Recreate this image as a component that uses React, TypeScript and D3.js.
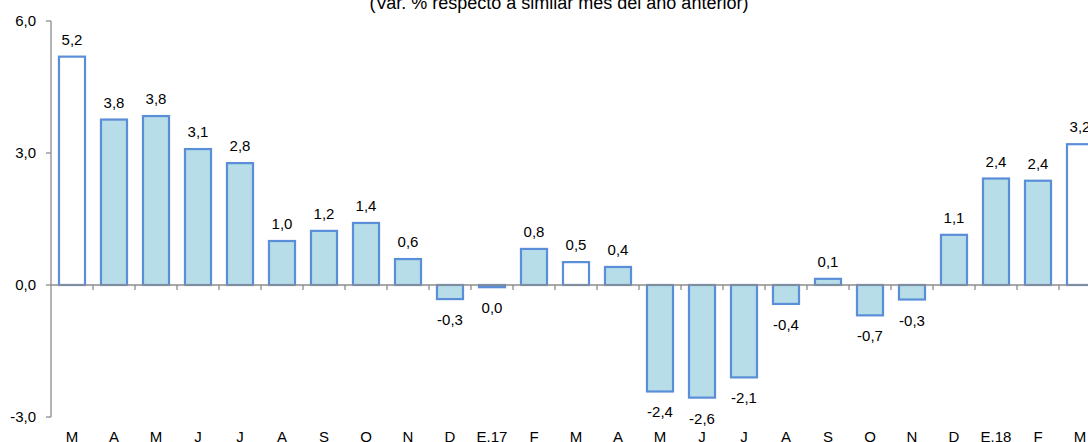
import React from "react";
import * as d3 from "d3";

const categories = ["M","A","M","J","J","A","S","O","N","D","E.17","F","M","A","M","J","J","A","S","O","N","D","E.18","F","M"];
const values = [5.19,3.76,3.84,3.09,2.77,1.0,1.23,1.41,0.59,-0.32,-0.05,0.82,0.52,0.41,-2.42,-2.56,-2.1,-0.43,0.14,-0.69,-0.33,1.14,2.42,2.37,3.2];
const labels = ["5,2","3,8","3,8","3,1","2,8","1,0","1,2","1,4","0,6","-0,3","0,0","0,8","0,5","0,4","-2,4","-2,6","-2,1","-0,4","0,1","-0,7","-0,3","1,1","2,4","2,4","3,2"];
const hollow = [0, 12, 24];
const yTicks = [-3, 0, 3, 6];
const yTickLabels = ["-3,0", "0,0", "3,0", "6,0"];
const title = "(Var. % respecto a similar mes del año anterior)";

export default function App() {
  const W = 1088, H = 442;
  const left = 51;
  const x = d3.scaleBand<number>().domain(d3.range(categories.length)).range([left, left + 42 * categories.length]).paddingInner(0.38).paddingOuter(0.19);
  const y = d3.scaleLinear().domain([-3, 6]).range([417, 21]);
  const font = "'Liberation Sans', Arial, sans-serif";
  const axisColor = "#8c8c8c";
  const step = x.step();
  const x0 = left;
  const fs = 15;
  return (
    <svg width={W} height={H} style={{ position: "absolute", left: 0, top: 0 }} fontFamily={font}>
      <text x={559} y={9} textAnchor="middle" fontSize={18} fill="#000">{title}</text>
      {/* y axis */}
      <line x1={left} x2={left} y1={y(6)} y2={y(-3)} stroke={axisColor} strokeWidth={1.3} />
      {yTicks.map((t, i) => (
        <g key={t}>
          <line x1={left - 5} x2={left} y1={y(t)} y2={y(t)} stroke={axisColor} strokeWidth={1.3} />
          <text x={36} y={y(t) + 5} textAnchor="end" fontSize={fs} fill="#000">{yTickLabels[i]}</text>
        </g>
      ))}
      {/* bars */}
      {values.map((v, i) => {
        const top = y(Math.max(0, v));
        const bot = y(Math.min(0, v));
        const h = Math.max(1, bot - top);
        return (
          <rect key={i} x={x(i)!} y={top} width={x.bandwidth()} height={h}
            fill={hollow.includes(i) ? "#ffffff" : "#b7dde8"} stroke="#5b8ed8" strokeWidth={2.2} />
        );
      })}
      {/* x axis */}
      <line x1={left} x2={W} y1={y(0)} y2={y(0)} stroke={axisColor} strokeWidth={1.3} />
      {d3.range(1, categories.length + 1).map((i) => (
        <line key={i} x1={x0 + i * step} x2={x0 + i * step} y1={y(0)} y2={y(0) + 5} stroke={axisColor} strokeWidth={1.3} />
      ))}
      {/* value labels */}
      {values.map((v, i) => {
        const cx = x(i)! + x.bandwidth() / 2;
        const ty = v >= 0 ? y(v) - 12 : y(v) + 26;
        return (
          <text key={i} x={cx} y={ty} textAnchor="middle" fontSize={fs} fill="#000">{labels[i]}</text>
        );
      })}
      {/* category labels */}
      {categories.map((c, i) => (
        <text key={i} x={x(i)! + x.bandwidth() / 2} y={442} textAnchor="middle" fontSize={fs} fill="#000">{c}</text>
      ))}
    </svg>
  );
}
